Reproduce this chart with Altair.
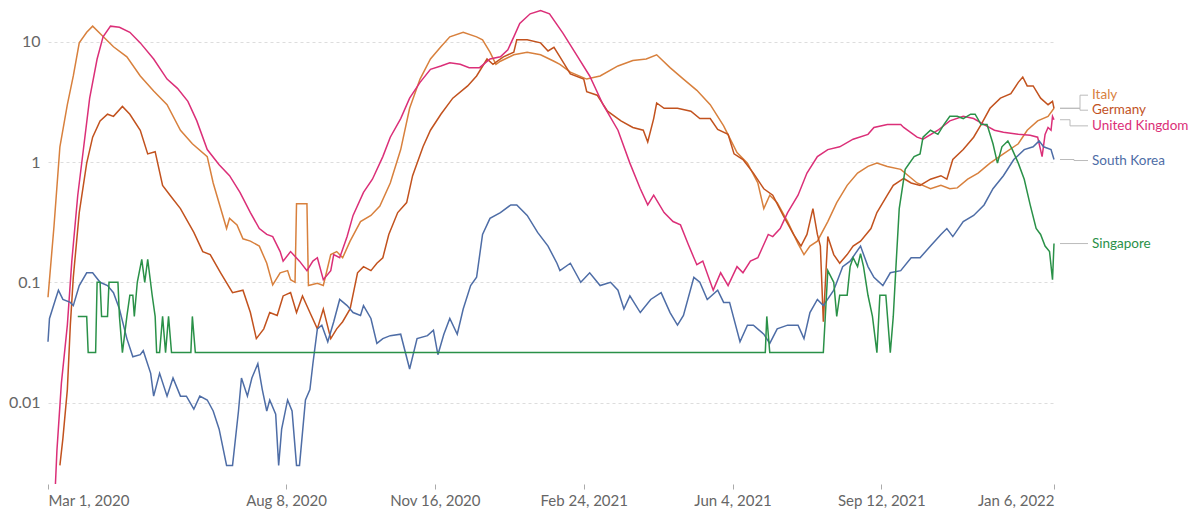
import altair as alt
import pandas as pd

START = pd.Timestamp("2020-03-01")

# ---- data (days since 2020-03-01, daily new deaths per million) ----
italy_days = [0,4,8,13,17,21,26,30,36,44,53,62,71,80,89,97,107,111,120,122,127,131,136,142,147,151,156,161,163,166,
              167,174,175,181,185,190,194,198,203,210,217,223,230,237,243,250,257,264,270,279,288,292,297,301,304,313,322,331,340,344,
              351,362,371,383,393,402,409,418,427,436,445,454,463,470,477,481,485,490,497,504,508,512,517,524,530,537,544,551,557,564,
              573,584,593,600,606,611,618,625,633,642,652,658,665,672,676]
italy_vals = [0.075,0.29,1.34,3.0,5.2,9.8,12,13.5,11.4,9.1,7.5,5.2,3.9,3.0,1.84,1.42,1.11,0.67,0.28,0.34,
              0.30,0.23,0.22,0.2,0.144,0.095,0.12,0.125,0.105,0.1,0.45,0.45,0.094,0.098,0.094,0.17,0.18,0.16,0.22,0.32,
              0.36,0.43,0.67,1.27,2.8,4.9,7.2,9.1,11,12,11,10.4,8.2,6.5,6.9,7.8,8.2,7.8,6.9,6.5,
              5.6,4.9,5.2,6.3,7.0,7.2,7.8,6.1,4.9,3.95,3.0,2.0,1.2,0.98,0.67,0.41,0.53,0.46,0.32,0.21,
              0.17,0.2,0.22,0.32,0.46,0.64,0.81,0.92,0.98,0.92,0.87,0.67,0.6,0.64,0.6,0.61,0.72,0.81,0.98,1.17,
              1.42,1.84,2.2,2.4,2.8]

germany_days = [8,10,13,15,17,21,26,30,35,40,44,50,55,62,67,72,77,82,89,98,104,109,116,124,131,136,140,145,149,154,
                158,163,167,171,176,181,185,190,194,198,203,208,212,217,221,225,229,235,241,245,252,257,264,272,282,288,295,299,306,313,
                315,322,331,336,340,344,351,360,362,369,376,385,393,400,403,407,409,414,423,432,438,445,450,457,461,467,474,481,487,494,
                501,506,510,514,517,519,521,524,528,532,537,541,546,553,557,564,568,575,580,586,593,600,604,608,615,622,627,633,640,647,
                652,655,658,662,667,672,675,676]
germany_vals = [0.003,0.005,0.0128,0.044,0.11,0.38,0.98,1.61,2.2,2.5,2.4,2.9,2.5,1.84,1.17,1.22,0.64,0.53,0.41,0.26,
                0.18,0.17,0.12,0.082,0.086,0.056,0.034,0.041,0.056,0.053,0.077,0.082,0.056,0.077,0.056,0.041,0.06,0.034,0.041,0.047,
                0.06,0.12,0.135,0.125,0.144,0.16,0.25,0.38,0.46,0.77,1.34,1.84,2.5,3.4,4.3,5.2,7.2,6.5,7.5,8.2,
                10.4,10.4,9.8,8.4,9.0,7.5,5.4,4.9,3.85,3.6,2.65,2.2,1.94,1.84,1.47,2.3,3.1,2.8,2.8,2.65,
                2.3,2.3,1.87,1.7,1.17,1.05,0.81,0.6,0.53,0.36,0.25,0.2,0.25,0.41,0.25,0.2,0.047,0.24,0.17,0.144,
                0.17,0.2,0.22,0.28,0.38,0.53,0.64,0.73,0.67,0.64,0.72,0.77,0.72,1.05,1.27,1.61,2.05,2.8,3.4,3.7,
                4.6,5.1,4.3,4.3,3.4,3.0,3.2,2.8]

uk_days = [5,6,9,13,16,20,24,28,33,37,42,48,55,62,71,80,87,94,100,107,115,122,129,136,142,147,151,156,158,163,
           169,174,178,181,185,190,192,196,201,205,212,218,225,230,237,243,250,257,264,270,277,283,290,297,304,309,313,317,324,331,
           337,346,356,364,373,383,391,398,403,407,414,420,425,430,434,436,440,447,452,457,463,467,472,477,484,487,492,497,504,510,
           517,524,532,541,551,555,564,573,575,584,588,598,606,615,622,629,636,642,652,660,665,668,670,672,674,675,676]
uk_vals = [0.0021,0.004,0.0145,0.044,0.15,0.53,1.34,3.4,7.2,11,13.5,13.2,12,9.8,7.2,4.9,4.1,3.2,2.2,1.27,
           0.95,0.77,0.56,0.38,0.28,0.25,0.24,0.18,0.15,0.18,0.15,0.125,0.15,0.16,0.105,0.125,0.17,0.16,0.24,0.36,
           0.56,0.72,1.11,1.61,2.3,3.4,4.6,5.9,6.3,6.7,6.5,6.1,6.1,7.2,7.5,8.6,11,14.2,17.1,18.2,
           17.1,11.8,7.5,5.2,3.0,1.84,0.98,0.6,0.44,0.53,0.38,0.32,0.30,0.21,0.16,0.14,0.15,0.086,0.12,0.094,
           0.135,0.12,0.15,0.16,0.25,0.24,0.28,0.38,0.53,0.81,1.11,1.27,1.34,1.55,1.7,1.94,2.05,2.05,1.94,1.61,
           1.55,1.84,2.2,2.4,2.3,2.05,1.84,1.77,1.7,1.67,1.61,1.11,1.7,1.94,1.84,2.4,2.25]

korea_days = [0,1,5,7,10,15,17,21,26,30,35,40,44,48,53,57,62,64,69,71,75,80,84,89,93,98,102,107,111,115,
              120,124,128,130,134,137,141,144,147,149,153,155,157,161,164,167,169,173,176,178,181,184,188,192,196,201,205,210,212,217,
              221,225,230,237,243,248,255,259,262,266,270,275,279,284,288,292,297,304,311,315,322,329,336,342,344,351,358,364,371,378,
              383,387,391,398,405,412,418,423,427,434,438,443,450,454,458,465,470,474,481,485,490,497,504,508,512,517,521,528,534,539,
              546,551,555,561,566,573,580,586,593,600,604,608,615,622,629,635,642,649,656,662,666,669,674,676]
korea_vals = [0.032,0.05,0.072,0.086,0.072,0.068,0.064,0.094,0.12,0.12,0.1,0.094,0.082,0.06,0.034,0.024,0.025,0.027,0.0175,0.0113,
              0.0175,0.0113,0.016,0.0113,0.0113,0.0088,0.0113,0.0105,0.0085,0.006,0.003,0.003,0.0085,0.016,0.0113,0.016,0.021,0.0128,0.0085,0.0105,
              0.008,0.003,0.006,0.0105,0.0085,0.003,0.003,0.0105,0.0128,0.021,0.041,0.044,0.032,0.047,0.072,0.064,0.056,0.053,0.064,0.05,
              0.031,0.034,0.036,0.037,0.019,0.034,0.036,0.04,0.025,0.037,0.05,0.037,0.06,0.094,0.11,0.25,0.34,0.38,0.44,0.44,
              0.36,0.26,0.2,0.144,0.125,0.144,0.1,0.12,0.094,0.1,0.086,0.06,0.077,0.056,0.072,0.082,0.056,0.044,0.053,0.11,
              0.1,0.072,0.086,0.068,0.068,0.032,0.044,0.044,0.037,0.031,0.041,0.044,0.044,0.034,0.056,0.072,0.064,0.086,0.135,0.15,
              0.2,0.135,0.11,0.094,0.12,0.125,0.16,0.16,0.2,0.25,0.28,0.24,0.32,0.36,0.44,0.6,0.77,1.05,1.27,1.34,
              1.5,1.34,1.27,1.05]

singapore_days = [20,26,27,32,33,35,36,40,41,47,48,50,53,55,57,58,60,63,65,67,70,72,73,75,77,79,81,83,96,97,
                  99,482,483,485,521,524,528,530,532,537,539,541,544,546,548,551,554,557,559,563,566,568,570,572,576,582,586,588,593,598,
                  602,606,611,615,620,623,627,631,635,638,641,645,648,652,656,660,664,667,670,673,675,676]
singapore_vals = [0.052,0.052,0.026,0.026,0.1,0.1,0.052,0.052,0.1,0.1,0.052,0.026,0.052,0.078,0.078,0.052,0.1,0.155,0.1,0.155,
                  0.078,0.052,0.026,0.026,0.052,0.026,0.052,0.026,0.026,0.052,0.026,0.026,0.052,0.026,0.026,0.125,0.1,0.052,0.078,0.078,
                  0.135,0.16,0.135,0.173,0.135,0.078,0.052,0.026,0.078,0.078,0.026,0.052,0.15,0.41,0.87,1.11,1.17,1.61,1.84,1.7,
                  2.05,2.4,2.4,2.3,2.5,2.5,2.05,2.05,1.42,0.98,1.34,1.5,1.27,0.98,0.72,0.44,0.28,0.25,0.2,0.18,
                  0.105,0.21]

names = ["Italy", "Germany", "United Kingdom", "South Korea", "Singapore"]
colors = ["#D8803D", "#C2521E", "#DB2F78", "#4E6DA6", "#2A9148"]
label_values = [3.6, 2.7, 2.0, 1.03, 0.21]
elbows = [26, 26, 16, 20, 20]

tick_dates = ["2020-03-01", "2020-08-08", "2020-11-16", "2021-02-24", "2021-06-04", "2021-09-12", "2022-01-06"]
y_ticks = [0.01, 0.1, 1, 10]

series = [
    ("Italy", italy_days, italy_vals),
    ("Germany", germany_days, germany_vals),
    ("United Kingdom", uk_days, uk_vals),
    ("South Korea", korea_days, korea_vals),
    ("Singapore", singapore_days, singapore_vals),
]

rows = []
for name, days, vals in series:
    for d, v in zip(days, vals):
        rows.append({"country": name,
                     "date": (START + pd.Timedelta(days=d)).strftime("%Y-%m-%d"),
                     "value": v})
df = pd.DataFrame(rows)

ends = pd.DataFrame({
    "country": names,
    "end": [s[2][-1] for s in series],
    "label": label_values,
    "elbow": elbows,
})

W = 1006
H = 474
GRAY = "#666666"


def dt(s):
    y, m, d = (int(p) for p in s.split("-"))
    return alt.DateTime(year=y, month=m, date=d, utc=True)


xscale = alt.Scale(type="utc", domain=[dt(tick_dates[0]), dt(tick_dates[-1])])
yscale = alt.Scale(type="log", domain=[0.0021, 18.4], nice=False)
cscale = alt.Scale(domain=names, range=colors)

xaxis = alt.Axis(values=[dt(s) for s in tick_dates], format="%b %-d, %Y", labelFlush=True,
                 domain=False, ticks=True, tickSize=5, tickColor="#aaaaaa", grid=False,
                 labelColor=GRAY, labelFontSize=15, labelPadding=4, labelOverlap=False,
                 labelFont="Lato")
yaxis = alt.Axis(values=y_ticks, format="~g", grid=True, gridDash=[3, 3], gridColor="#dddddd",
                 domain=False, ticks=False, labelPadding=8, labelFontSize=16, labelColor=GRAY,
                 labelFont="Lato")

lines = alt.Chart(df).mark_line(strokeWidth=1.5).encode(
    x=alt.X("date:T", scale=xscale, axis=xaxis, title=None),
    y=alt.Y("value:Q", scale=yscale, axis=yaxis, title=None),
    color=alt.Color("country:N", scale=cscale, legend=None),
)

layers = [lines]
for e in sorted(set(elbows)):
    sub = ends[ends["elbow"] == e]
    base = alt.Chart(sub)
    layers.append(base.mark_rule(color="#bbbbbb", strokeWidth=1).encode(
        x=alt.value(W + 6), x2=alt.value(W + e),
        y=alt.Y("end:Q", scale=yscale, axis=yaxis, title=None)))
    layers.append(base.mark_rule(color="#bbbbbb", strokeWidth=1).encode(
        x=alt.value(W + e),
        y=alt.Y("end:Q", scale=yscale, axis=yaxis, title=None), y2="label:Q"))
    layers.append(base.mark_rule(color="#bbbbbb", strokeWidth=1).encode(
        x=alt.value(W + e), x2=alt.value(W + 34),
        y=alt.Y("label:Q", scale=yscale, axis=yaxis, title=None)))

labels = alt.Chart(ends).mark_text(align="left", baseline="middle", fontSize=13.5, font="Lato").encode(
    x=alt.value(W + 38),
    y=alt.Y("label:Q", scale=yscale, axis=yaxis, title=None),
    text="country:N",
    color=alt.Color("country:N", scale=cscale, legend=None),
)
layers.append(labels)

chart = alt.layer(*layers).properties(
    width=W, height=H,
    autosize=alt.AutoSizeParams(type="none"),
    padding={"top": 2, "left": 40, "right": 137, "bottom": 28},
    background="white",
).configure_view(stroke=None)

chart.save("out.html", embed_options={"renderer": "svg", "actions": False})
